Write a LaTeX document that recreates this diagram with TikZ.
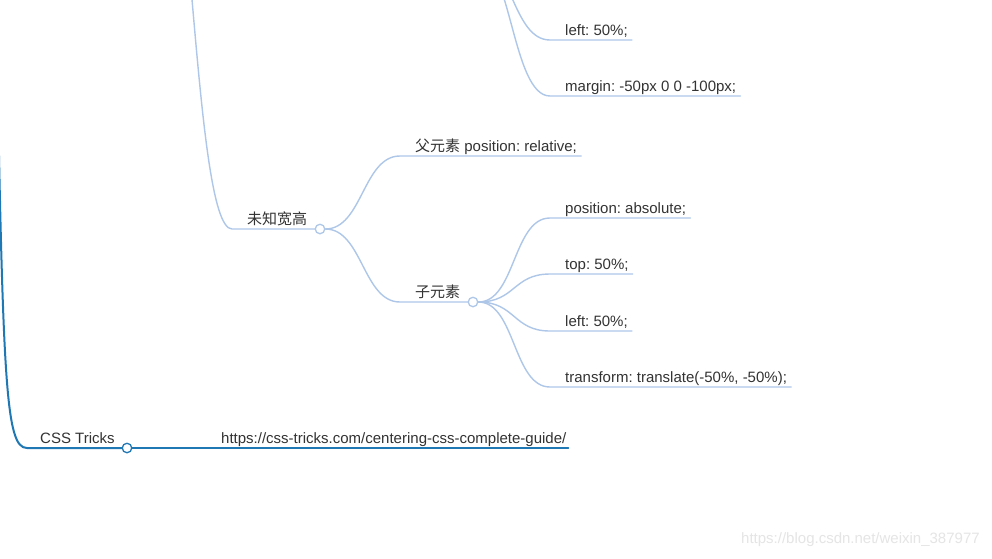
\documentclass[tikz,border=0pt]{standalone}
\usepackage{fontspec}
\setmainfont{Liberation Sans}
\newfontfamily\cjk{Noto Sans CJK SC}
\usetikzlibrary{positioning}
\frenchspacing

\definecolor{linkdark}{RGB}{31,119,180}
\definecolor{linklight}{RGB}{174,199,232}
\definecolor{textgray}{RGB}{51,51,51}

\begin{document}
\begin{tikzpicture}[
        x=1pt, y=-1pt,
        line cap=round,
        leaf/.style={anchor=base west, inner sep=0pt, text=textgray,
                font=\fontsize{15}{18}\selectfont},
        knob/.style={circle, draw, fill=white, line width=1.3pt,
                minimum size=9.5pt, inner sep=0pt},
        light link/.style={draw=linklight, line width=1.4pt},
        dark link/.style={draw=linkdark, line width=2pt},
        url link/.style={draw=linkdark, line width=1.3pt},
    ]
    \newcommand*{\LinkDx}{37}
    \newcommand*{\TextGap}{15}
    \newcommand*{\BaseUp}{4.5}
    \newcommand*{\LinePad}{4}

    \fill[white] (0,0) rectangle (992,558);
    \useasboundingbox (0,0) rectangle (992,558);

    % parents that lie above the visible part
    \coordinate (root) at (-4,0);
    \coordinate (pKnown) at (152,-230);
    \coordinate (pUpper) at (473,-46);

    % the knobs
    \node[knob, draw=linklight] (kUnknown) at (320,229) {};
    \node[knob, draw=linklight] (kChild) at (473,302) {};
    \node[knob, draw=linkdark] (kTricks) at (127,448) {};

    % last two leaves of the upper group
    \foreach \t/\y [count=\i] in {{left: 50\%;}/40, {margin: -50px 0 0 -100px;}/96} {
            \coordinate (eU\i) at (550,\y);
            \node[leaf] (tU\i) at ([shift={(\TextGap,-\BaseUp)}]eU\i) {\t};
            \draw[light link]
            (pUpper) .. controls +(38.5,0) and +(-38.5,0) .. (eU\i)
            -- ([xshift=\LinePad]eU\i -| tU\i.east);
        }

    % 未知宽高
    \coordinate (eUnknown) at (232,229);
    \node[leaf] (tUnknown) at ([shift={(\TextGap,-\BaseUp)}]eUnknown) {\cjk 未知宽高};
    \draw[light link]
    (pKnown) .. controls +(40,0) and +(-40,0) .. (eUnknown) -- (kUnknown.west);

    % 父元素
    \coordinate (eParent) at (400,156);
    \node[leaf] (tParent) at ([shift={(\TextGap,-\BaseUp)}]eParent)
    {{\cjk 父元素} position: relative;};
    \draw[light link]
    (kUnknown.east) .. controls +(\LinkDx,0) and +(-\LinkDx,0) .. (eParent)
    -- ([xshift=\LinePad]eParent -| tParent.east);

    % 子元素
    \coordinate (eChild) at (400,302);
    \node[leaf] (tChild) at ([shift={(\TextGap,-\BaseUp)}]eChild) {\cjk 子元素};
    \draw[light link]
    (kUnknown.east) .. controls +(\LinkDx,0) and +(-\LinkDx,0) .. (eChild)
    -- (kChild.west);

    \foreach \t/\y [count=\i] in {{position: absolute;}/218, {top: 50\%;}/274,
            {left: 50\%;}/331, {transform: translate(-50\%, -50\%);}/387} {
            \coordinate (eC\i) at (550,\y);
            \node[leaf] (tC\i) at ([shift={(\TextGap,-\BaseUp)}]eC\i) {\t};
            \draw[light link]
            (kChild.east) .. controls +(\LinkDx,0) and +(-\LinkDx,0) .. (eC\i)
            -- ([xshift=\LinePad]eC\i -| tC\i.east);
        }

    % CSS Tricks
    \coordinate (eTricks) at (27,448);
    \node[leaf] (tTricks) at ([shift={(13,-\BaseUp)}]eTricks) {CSS Tricks};
    \draw[dark link]
    (root) .. controls +(7,380) and +(-22,0) .. (eTricks) -- (kTricks.west);

    \coordinate (eUrl) at (207,448);
    \node[leaf] (tUrl) at ([shift={(14,-\BaseUp)}]eUrl)
    {https://css-tricks.com/centering-css-complete-guide/};
    \draw[url link] (kTricks.east) -- (eUrl) -- ([xshift=2pt]eUrl -| tUrl.east);

    % watermark
    \node[leaf, text=black!10] (mark) at (741,543) {https://blog.csdn.net/weixin\_387977};
\end{tikzpicture}
\end{document}
